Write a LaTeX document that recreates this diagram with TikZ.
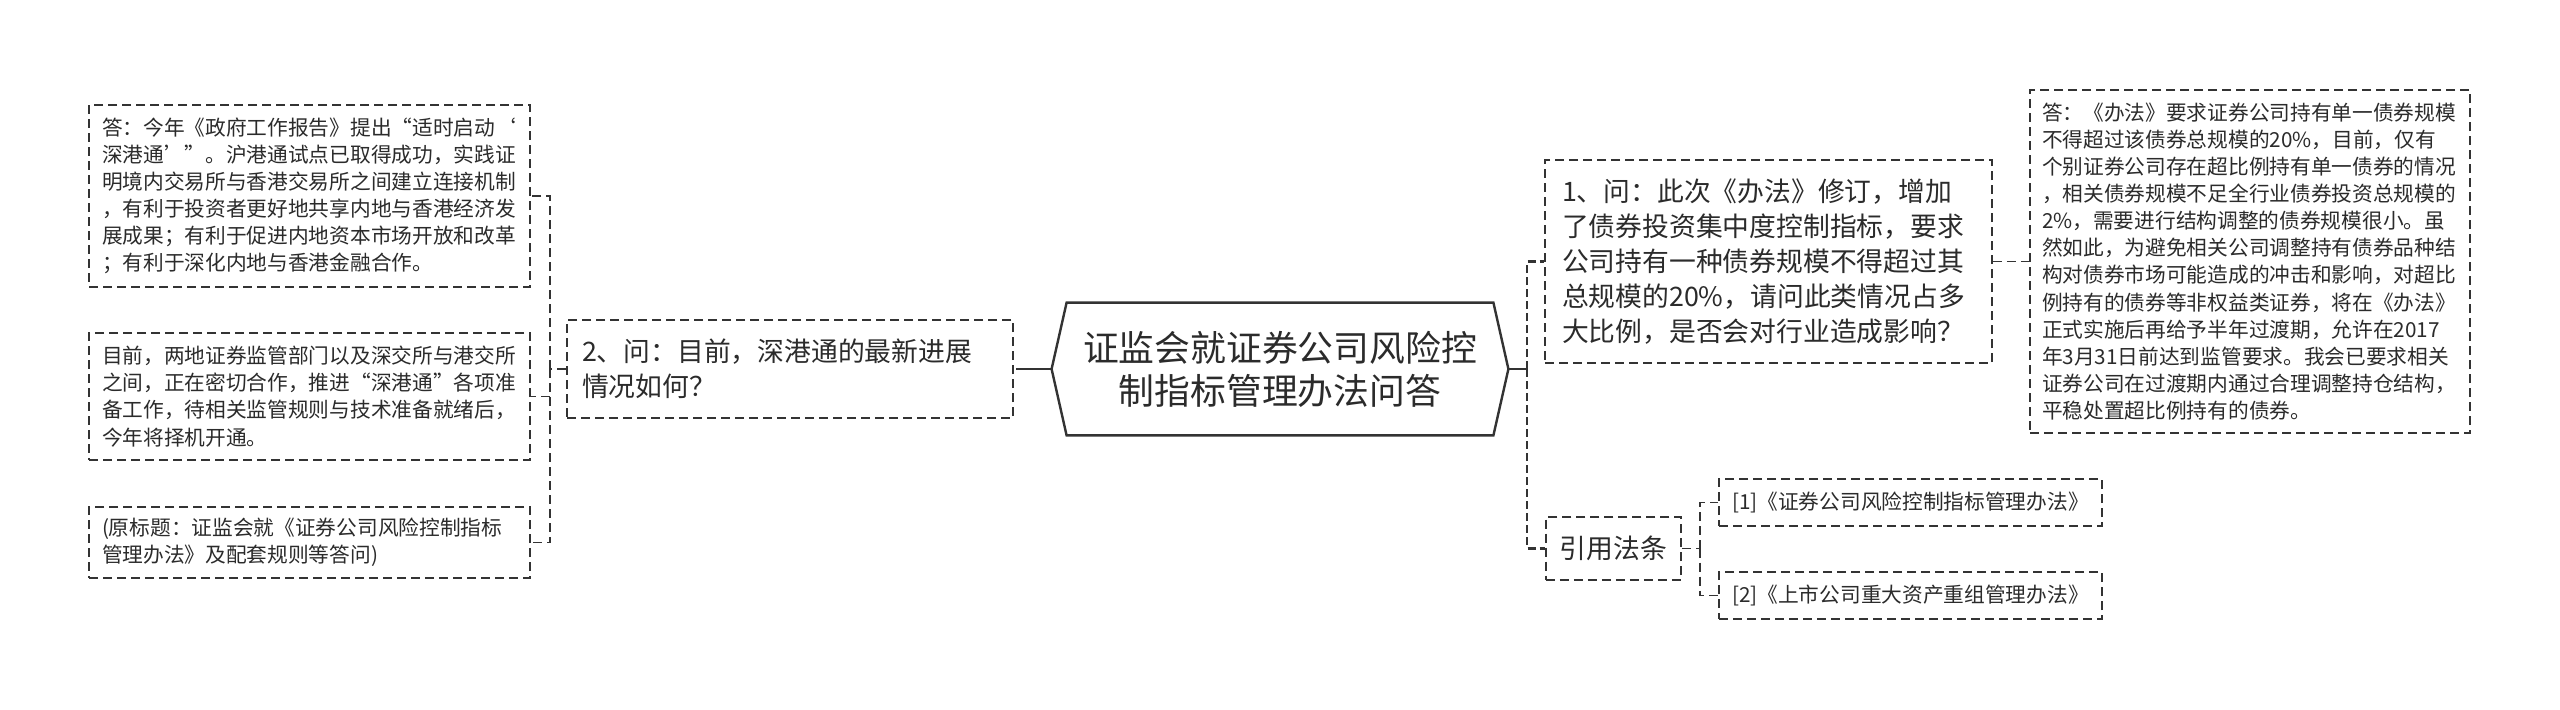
\documentclass[tikz,border=0pt]{standalone}
\usepackage{fontspec}
\setmainfont{Noto Sans CJK SC}
\definecolor{ink}{HTML}{2B2B2B}
\definecolor{ln}{HTML}{333333}
\tikzset{
  bx/.style={draw=ln, line width=0.9pt, dash pattern=on 4.5pt off 2.5pt, text=ink, inner ysep=0pt, align=left, anchor=center},
  smalltxt/.style={font=\fontsize{10.35pt}{13.55pt}\selectfont, inner xsep=6.5pt},
  bigtxt/.style={font=\fontsize{13.4pt}{17.6pt}\selectfont},
  conn/.style={draw=ln, line width=0.9pt, dash pattern=on 4.5pt off 2.5pt},
  trunk/.style={draw=ln, line width=1.35pt, dash pattern=on 4pt off 2pt},
  solidc/.style={draw=ln, line width=1.2pt}
}
\begin{document}
\begin{tikzpicture}[x=0.5pt,y=-0.5pt]
\useasboundingbox[fill=white] (0,0) rectangle (2560,709);

% root
\node[text=ink, font=\fontsize{17.9pt}{21.5pt}\selectfont, align=center, minimum width=228pt, minimum height=66pt, inner sep=0pt] (root) at (1280,369) {证监会就证券公司风险控\\制指标管理办法问答};
\draw[ln, line width=1.2pt, line join=miter] (root.west) -- ([xshift=7.5pt]root.north west) -- ([xshift=-7.5pt]root.north east) -- (root.east) -- ([xshift=-7.5pt]root.south east) -- ([xshift=7.5pt]root.south west) -- cycle;

% left branch
\node[bx, bigtxt, inner xsep=7.5pt, text width=208pt, minimum height=49pt] (q2) at (790,369) {2、问：目前，深港通的最新进展\\情况如何？};
\node[bx, smalltxt, text width=207.5pt, minimum height=91pt] (a1) at (309.5,196) {答：今年《政府工作报告》提出“适时启动‘\\深港通’”。沪港通试点已取得成功，实践证\\明境内交易所与香港交易所之间建立连接机制\\，有利于投资者更好地共享内地与香港经济发\\展成果；有利于促进内地资本市场开放和改革\\；有利于深化内地与香港金融合作。};
\node[bx, smalltxt, text width=207.5pt, minimum height=63.5pt] (a2) at (309.5,396.5) {目前，两地证券监管部门以及深交所与港交所\\之间，正在密切合作，推进“深港通”各项准\\备工作，待相关监管规则与技术准备就绪后，\\今年将择机开通。};
\node[bx, smalltxt, text width=207.5pt, minimum height=35.5pt] (a3) at (309.5,542.5) {(原标题：证监会就《证券公司风险控制指标\\管理办法》及配套规则等答问)};

% right branch
\node[bx, bigtxt, inner xsep=8.5pt, text width=206.5pt, minimum height=101.5pt] (q1) at (1768.5,261.5) {1、问：此次《办法》修订，增加\\了债券投资集中度控制指标，要求\\公司持有一种债券规模不得超过其\\总规模的20\%，请问此类情况占多\\大比例，是否会对行业造成影响？};
\node[bx, smalltxt, inner xsep=6pt, text width=208pt, minimum height=171.5pt] (ans) at (2250,261.5) {答：《办法》要求证券公司持有单一债券规模\\不得超过该债券总规模的20\%，目前，仅有\\个别证券公司存在超比例持有单一债券的情况\\，相关债券规模不足全行业债券投资总规模的\\2\%，需要进行结构调整的债券规模很小。虽\\然如此，为避免相关公司调整持有债券品种结\\构对债券市场可能造成的冲击和影响，对超比\\例持有的债券等非权益类证券，将在《办法》\\正式实施后再给予半年过渡期，允许在2017\\年3月31日前达到监管要求。我会已要求相关\\证券公司在过渡期内通过合理调整持仓结构，\\平稳处置超比例持有的债券。};
\node[bx, bigtxt, inner xsep=7pt, align=center, minimum width=67.5pt, minimum height=31.5pt] (ref) at (1613.5,548.5) {引用法条};
\node[bx, smalltxt, text width=178.5pt, minimum height=23.5pt] (l1) at (1910.5,502.5) {[1]《证券公司风险控制指标管理办法》};
\node[bx, smalltxt, text width=178.5pt, minimum height=23.5pt] (l2) at (1910.5,595.5) {[2]《上市公司重大资产重组管理办法》};

% joints
\coordinate (jl1) at (1025,369);
\coordinate (jl2) at (550,369);
\coordinate (jr1) at (1527,369);
\coordinate (jr2) at (1700,548.5);

% connectors
\draw[solidc] (root.west) -- (jl1);
\draw[conn] (jl1) -- (q2.east);
\draw[conn] (q2.west) -- (jl2);
\draw[conn] (jl2) |- (a1.east);
\draw[conn] (jl2) |- (a2.east);
\draw[conn] (jl2) |- (a3.east);

\draw[solidc] (root.east) -- (jr1);
\draw[trunk] (jr1) |- (q1.west);
\draw[trunk] (jr1) |- (ref.west);
\draw[conn] (q1.east) -- (ans.west);
\draw[conn] (ref.east) -- (jr2);
\draw[conn] (jr2) |- (l1.west);
\draw[conn] (jr2) |- (l2.west);
\end{tikzpicture}
\end{document}
